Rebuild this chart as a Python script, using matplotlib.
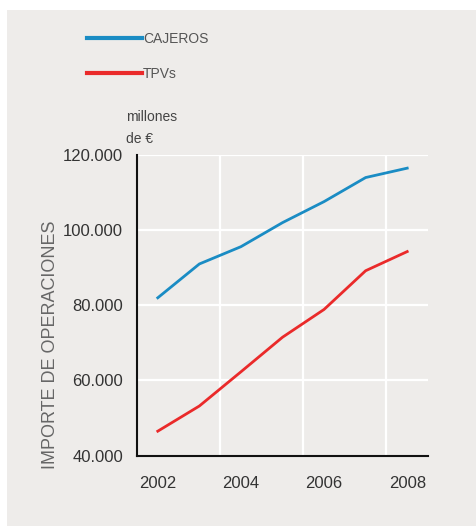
import matplotlib
matplotlib.use("Agg")
import matplotlib.pyplot as plt
from matplotlib.patches import Rectangle
from matplotlib.lines import Line2D

years = [2002, 2003, 2004, 2005, 2006, 2007, 2008]
cajeros = [82000, 91000, 95600, 102000, 107600, 114000, 116500]
tpvs = [46500, 53200, 62300, 71500, 78900, 89200, 94300]
series_names = ["CAJEROS", "TPVs"]
ytick_values = [40000, 60000, 80000, 100000, 120000]
ytick_labels = ["40.000", "60.000", "80.000", "100.000", "120.000"]
xtick_values = [2002, 2004, 2006, 2008]
xgrid_values = [2003.5, 2005.5, 2007.5]

BG = "#eeecea"
BLUE = "#1a8cc4"
RED = "#ea2a2a"
W, H = 476, 526

plt.rcParams["font.family"] = ["Liberation Sans", "DejaVu Sans"]

fig = plt.figure(figsize=(W / 100, H / 100), dpi=100)
fig.patch.set_facecolor("white")
fig.patches.append(Rectangle((7 / W, 0), 1 - 7 / W, 1 - 10 / H,
                             transform=fig.transFigure, facecolor=BG,
                             edgecolor="none", zorder=-10))

ax = fig.add_axes([137 / W, 1 - 455.6 / H, (428 - 137) / W, (455.6 - 155) / H])
ax.set_zorder(1)
ax.set_facecolor(BG)
ax.plot(years, cajeros, color=BLUE, lw=2.0, solid_joinstyle="miter", zorder=3)
ax.plot(years, tpvs, color=RED, lw=2.0, solid_joinstyle="miter", zorder=3)

ax.set_xlim(2001.5, 2008.5)
ax.set_ylim(40000, 120000)
ax.set_yticks(ytick_values)
ax.set_yticklabels(ytick_labels)
ax.set_xticks(xtick_values)
ax.set_xticklabels([str(v) for v in xtick_values])
ax.tick_params(length=0, labelsize=12, colors="#333333")
ax.tick_params(axis="y", pad=10)
ax.tick_params(axis="x", pad=15)

for v in ytick_values[1:]:
    ax.axhline(v, color="white", lw=1.6, zorder=1)
for v in xgrid_values:
    ax.axvline(v, color="white", lw=1.6, zorder=1)

for s in ["top", "right"]:
    ax.spines[s].set_visible(False)
for s in ["left", "bottom"]:
    ax.spines[s].set_color("#111111")
    ax.spines[s].set_linewidth(1.5)
    ax.spines[s].set_zorder(4)

fig.text(51 / W, 1 - 345 / H, "IMPORTE DE OPERACIONES", rotation=90,
         ha="center", va="center", fontsize=13, color="#666666")
fig.text(126 / W, 1 - 117 / H, "millones", ha="left", va="center",
         fontsize=10, color="#444444")
fig.text(126 / W, 1 - 139 / H, "de €", ha="left", va="center",
         fontsize=10, color="#444444")

# legend drawn as line samples with labels
for name, color, y in zip(series_names, [BLUE, RED], [37.7, 72.7]):
    fig.lines.append(Line2D([87 / W, 142 / W], [1 - y / H, 1 - y / H],
                            transform=fig.transFigure, color=color, lw=3.0))
    fig.text(143 / W, 1 - (y + 1) / H, name, ha="left", va="center",
             fontsize=10, color="#555555")

fig.savefig("out.png", dpi=100, facecolor="white")
